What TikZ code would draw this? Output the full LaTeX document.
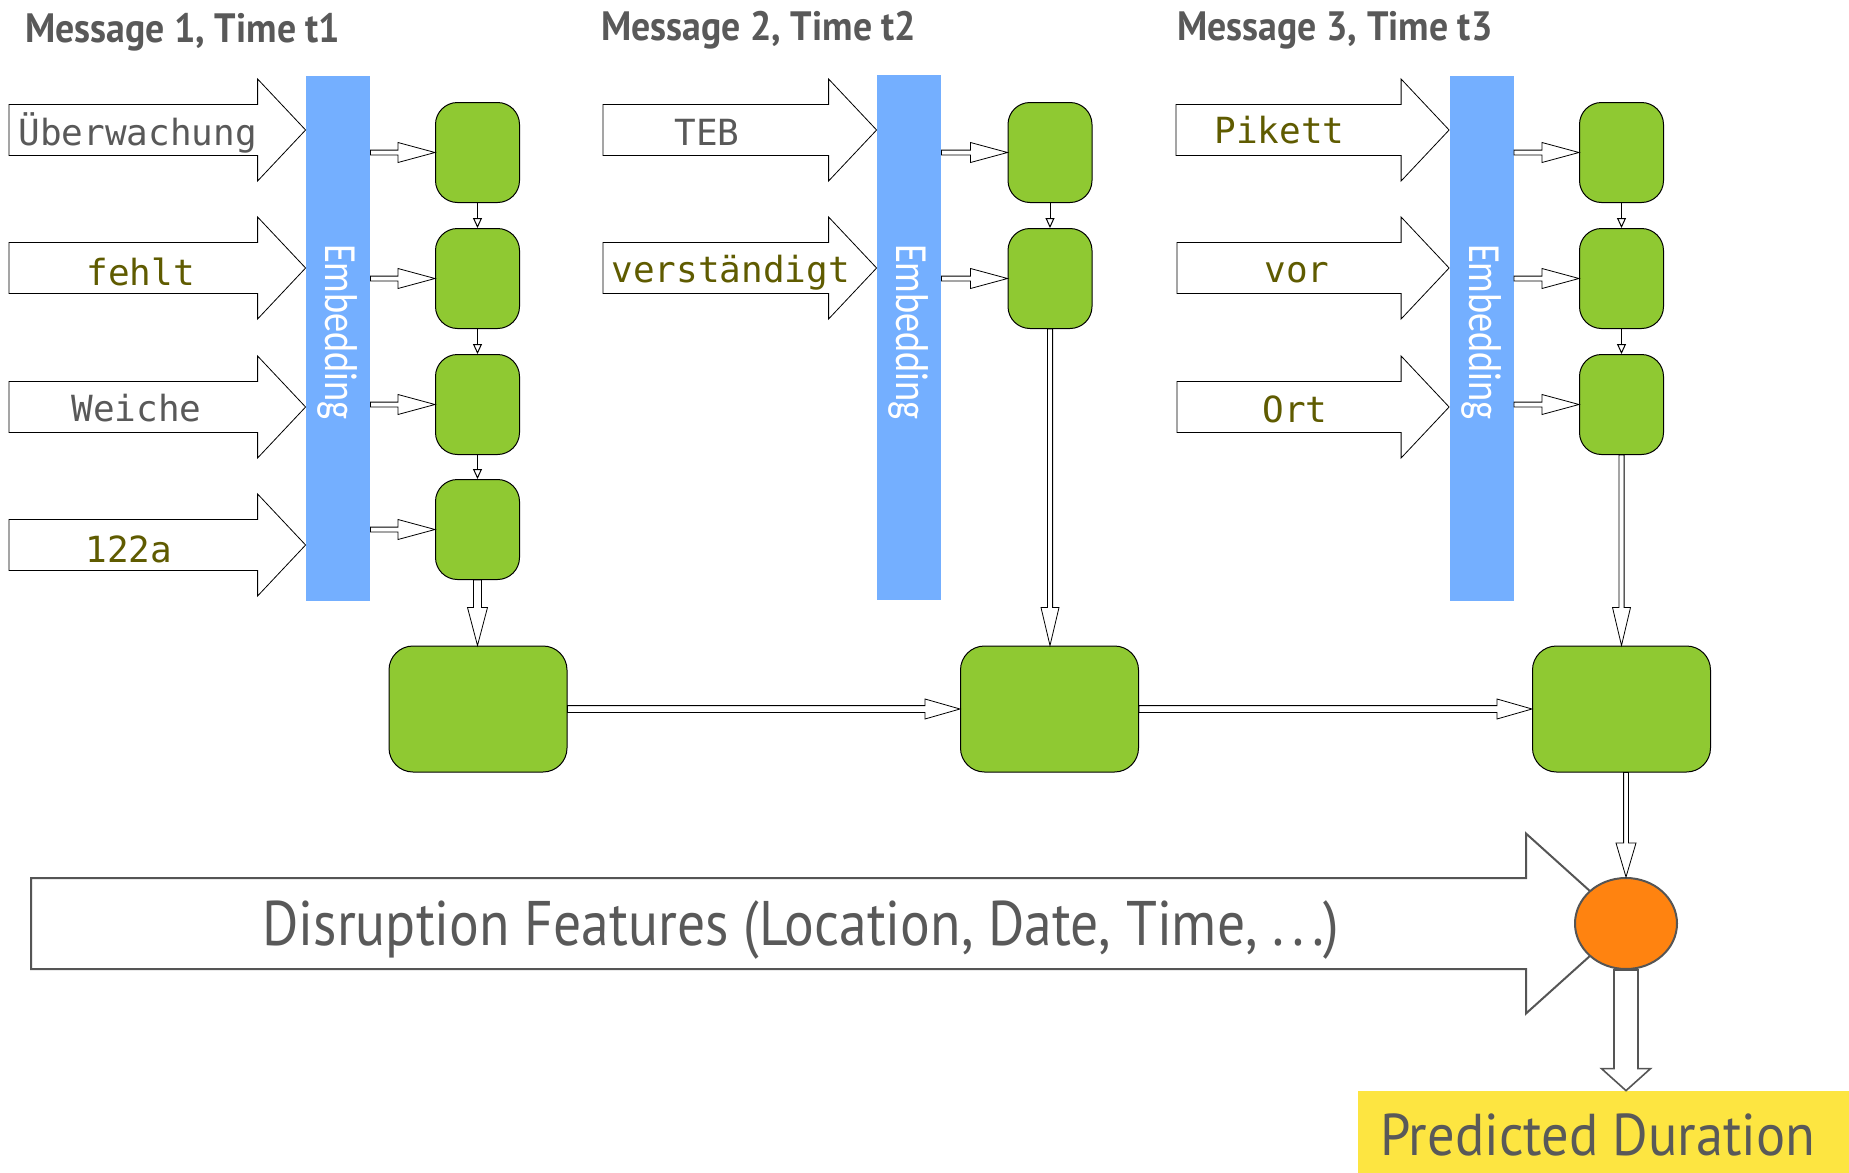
\documentclass[tikz,border=0pt]{standalone}
\usepackage{fontspec}
\usepackage{graphicx}
\setmainfont{PT Sans}
\newfontfamily\monof{DejaVu Sans Mono}
\newfontfamily\embf{Carlito}
\usetikzlibrary{arrows.meta,calc,shapes.geometric}
\definecolor{gboxc}{HTML}{8FC932}
\definecolor{barc}{HTML}{74AFFF}
\definecolor{orangec}{HTML}{FF8310}
\definecolor{yellc}{HTML}{FDE541}
\definecolor{txtgray}{HTML}{595959}
\definecolor{olivec}{HTML}{5F5B00}
\definecolor{lgray}{HTML}{555555}
% horizontal block arrow: [style] from, to, shaft half, head half, head length
\newcommand\hblk[6][]{\draw[#1] let \p1=(#2), \p2=(#3) in
  (\x1,\y1+#4) -- (\x2-#6,\y1+#4) -- (\x2-#6,\y1+#5) -- (\x2,\y1) --
  (\x2-#6,\y1-#5) -- (\x2-#6,\y1-#4) -- (\x1,\y1-#4) -- cycle;}
% vertical (downward) block arrow
\newcommand\vblk[6][]{\draw[#1] let \p1=(#2), \p2=(#3) in
  (\x1-#4,\y1) -- (\x1-#4,\y2+#6) -- (\x1-#5,\y2+#6) -- (\x1,\y2) --
  (\x1+#5,\y2+#6) -- (\x1+#4,\y2+#6) -- (\x1+#4,\y1) -- cycle;}
\begin{document}
\begin{tikzpicture}[x=0.5pt,y=-0.5pt,
  sbox/.style={draw=black, line width=0.5pt, fill=gboxc, rounded corners=11pt,
    minimum width=42pt, minimum height=50pt, inner sep=0pt},
  bbox/.style={draw=black, line width=0.5pt, fill=gboxc, rounded corners=12pt,
    minimum width=89pt, minimum height=63pt, inner sep=0pt},
  embar/.style={fill=barc, minimum width=32pt, minimum height=262.5pt, inner sep=0pt},
  emb/.style={rotate=-90, text=white, inner sep=0pt, font=\embf\fontsize{23}{23}\selectfont},
  blk/.style={draw=black, line width=0.4pt, fill=white},
  gblk/.style={draw=lgray, line width=1pt, fill=white},
  chain/.style={draw=black, line width=0.5pt, -{Triangle[open,length=5pt,width=4.5pt]}},
  word/.style={font=\monof\fontsize{18}{18}\selectfont, anchor=base west, inner sep=0pt},
  ttl/.style={anchor=base west, inner sep=0pt, text=txtgray, font=\bfseries\fontsize{20.5}{20.5}\selectfont},
  big/.style={anchor=base west, inner sep=0pt, text=txtgray},
]
\useasboundingbox (0,0) rectangle (1849,1173);

% titles
\node[ttl] (t1) at (25,42) {\resizebox{157.5pt}{\height}{Message 1, Time t1}};
\node[ttl] (t2) at (601,40) {\resizebox{157.5pt}{\height}{Message 2, Time t2}};
\node[ttl] (t3) at (1177,40) {\resizebox{157.5pt}{\height}{Message 3, Time t3}};

% embedding bars
\node[embar] (bar1) at (338,338.5) {};
\node[embar] (bar2) at (909,337.5) {};
\node[embar] (bar3) at (1481.5,338.5) {};
\node[emb] (e1) at (338,332) {\resizebox{88pt}{\height}{Embedding}};
\node[emb] (e2) at (909,332) {\resizebox{88pt}{\height}{Embedding}};
\node[emb] (e3) at (1481.5,332) {\resizebox{88pt}{\height}{Embedding}};

% word arrows
\coordinate (w11) at (9,130);
\coordinate (w12) at (9,268);
\coordinate (w13) at (9,407);
\coordinate (w14) at (9,545);
\coordinate (w21) at (603,130);
\coordinate (w22) at (603,268);
\coordinate (w31) at (1176,130);
\coordinate (w32) at (1177,268);
\coordinate (w33) at (1177,407);
\foreach \w/\b in {w11/bar1,w12/bar1,w13/bar1,w14/bar1,w21/bar2,w22/bar2,w31/bar3,w32/bar3,w33/bar3}{
  \hblk[blk]{\w}{\b.west |- \w}{12.75pt}{25.5pt}{24pt}
}
\node[word, text=txtgray] (x11) at (18,145) {Überwachung};
\node[word, text=olivec] (x12) at (86,285) {fehlt};
\node[word, text=txtgray] (x13) at (71,421) {Weiche};
\node[word, text=olivec] (x14) at (85,562) {122a};
\node[word, text=txtgray] (x21) at (674,145) {TEB};
\node[word, text=olivec] (x22) at (611,282) {verständigt};
\node[word, text=olivec] (x31) at (1214,143) {Pikett};
\node[word, text=olivec] (x32) at (1264,282) {vor};
\node[word, text=olivec] (x33) at (1262,422) {Ort};

% small boxes
\node[sbox] (a1) at (477.5,152.5) {};
\node[sbox] (a2) at (477.5,278.5) {};
\node[sbox] (a3) at (477.5,404.5) {};
\node[sbox] (a4) at (477.5,529.5) {};
\node[sbox] (b1) at (1050,152.5) {};
\node[sbox] (b2) at (1050,278.5) {};
\node[sbox] (c1) at (1621.5,152.5) {};
\node[sbox] (c2) at (1621.5,278.5) {};
\node[sbox] (c3) at (1621.5,404.5) {};

% bar -> box arrows
\foreach \bx/\b in {a1/bar1,a2/bar1,a3/bar1,a4/bar1,b1/bar2,b2/bar2,c1/bar3,c2/bar3,c3/bar3}{
  \hblk[blk]{\b.east |- \bx}{\bx.west}{1.2pt}{5pt}{18.5pt}
}
% chain arrows
\draw[chain] (a1) -- (a2);
\draw[chain] (a2) -- (a3);
\draw[chain] (a3) -- (a4);
\draw[chain] (b1) -- (b2);
\draw[chain] (c1) -- (c2);
\draw[chain] (c2) -- (c3);

% big boxes
\node[bbox] (A) at (478,709) {};
\node[bbox] (B) at (1049.5,709) {};
\node[bbox] (C) at (1621.5,709) {};

\vblk[blk]{a4.south}{A.north}{2pt}{5pt}{19pt}
\vblk[blk]{b2.south}{B.north}{1.3pt}{4.5pt}{19pt}
\vblk[blk]{c3.south}{C.north}{1.3pt}{4.5pt}{19pt}
\hblk[blk]{A.east}{B.west}{1.7pt}{5pt}{17.5pt}
\hblk[blk]{B.east}{C.west}{1.7pt}{5pt}{17.5pt}

% disruption features arrow and ellipse
\coordinate (dl) at (31,923.5);
\coordinate (ec) at (1626,923.5);
\hblk[gblk]{dl}{ec}{22.75pt}{45pt}{50pt}
\node[ellipse, draw=lgray, line width=1pt, fill=orangec, minimum width=51pt,
  minimum height=45.5pt, inner sep=0pt] (ell) at (ec) {};
\vblk[blk]{ell.north |- C.south}{ell.north}{1.2pt}{5pt}{17pt}
\node[big, font=\fontsize{31.5}{31.5}\selectfont] (dt) at (262,945)
  {\resizebox{538.5pt}{\height}{Disruption Features (Location, Date, Time, .\hspace{0.14em}.\hspace{0.14em}.)}};

% predicted duration
\node[fill=yellc, minimum width=245.5pt, minimum height=41pt, inner sep=0pt] (pd) at (1603.5,1132) {};
\vblk[gblk, line width=0.8pt]{ell.south}{ell.south |- pd.north}{6pt}{12.25pt}{11pt}
\node[big, font=\fontsize{29.5}{29.5}\selectfont] (pdt) at (1380,1155)
  {\resizebox{217.5pt}{\height}{Predicted Duration}};
\end{tikzpicture}
\end{document}
